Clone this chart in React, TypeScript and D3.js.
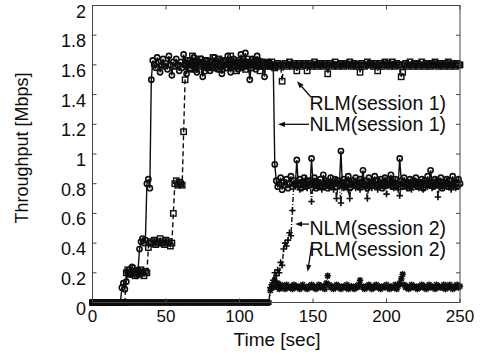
import React from 'react';
import * as d3 from 'd3';

// sampling grid: one sample per second, 0..250 s
const times: number[] = d3.range(0, 251);

// NLM (session 1) — solid line, circle markers
const nlmSession1 = [
  0, 0, 0, 0, 0, 0, 0, 0, 0, 0,
  0, 0, 0, 0, 0, 0, 0, 0, 0, 0,
  0.1, 0.13, 0.09, 0.14, 0.2, 0.22, 0.19, 0.24, 0.21, 0.2,
  0.18, 0.22, 0.36, 0.41, 0.43, 0.4, 0.42, 0.8, 0.83, 0.77,
  1.5, 1.63, 1.6, 1.58, 1.65, 1.62, 1.55, 1.6, 1.64, 1.59,
  1.61, 1.57, 1.66, 1.6, 1.53, 1.62, 1.59, 1.64, 1.6, 1.56,
  1.62, 1.58, 1.67, 1.6, 1.54, 1.61, 1.63, 1.57, 1.6, 1.65,
  1.59, 1.55, 1.62, 1.6, 1.64, 1.52, 1.61, 1.58, 1.63, 1.6,
  1.56, 1.62, 1.59, 1.65, 1.61, 1.57, 1.6, 1.63, 1.54, 1.6,
  1.62, 1.58, 1.66, 1.6, 1.55, 1.61, 1.64, 1.59, 1.62, 1.57,
  1.6, 1.67, 1.58, 1.61, 1.68, 1.59, 1.62, 1.5, 1.6, 1.64,
  1.61, 1.57, 1.66, 1.63, 1.59, 1.62, 1.6, 1.52, 1.61, 1.6,
  1.62, 1.59, 1.6, 1.58, 0.93, 0.82, 0.78, 0.8, 0.84, 0.76,
  0.81, 0.79, 0.83, 0.77, 0.8, 0.85, 0.78, 0.82, 0.8, 0.96,
  0.79, 0.83, 0.77, 0.81, 0.84, 0.78, 0.8, 0.82, 0.79, 0.97,
  0.8, 0.84, 0.77, 0.81, 0.79, 0.83, 0.78, 0.86, 0.8, 0.82,
  0.77, 0.81, 0.84, 0.79, 0.8, 0.83, 0.78, 0.82, 0.8, 1.02,
  0.79, 0.83, 0.78, 0.81, 0.85, 0.77, 0.8, 0.82, 0.79, 0.84,
  0.8, 0.78, 0.83, 0.81, 0.89, 0.79, 0.82, 0.77, 0.84, 0.8,
  0.81, 0.79, 0.85, 0.78, 0.82, 0.8, 0.83, 0.77, 0.81, 0.84,
  0.79, 0.82, 0.8, 0.86, 0.78, 0.81, 0.83, 0.79, 0.8, 0.97,
  0.82, 0.78, 0.84, 0.8, 0.81, 0.77, 0.83, 0.79, 0.82, 0.8,
  0.84, 0.78, 0.81, 0.8, 0.83, 0.77, 0.82, 0.79, 0.85, 0.8,
  0.89, 0.81, 0.78, 0.83, 0.8, 0.82, 0.79, 0.84, 0.77, 0.81,
  0.8, 0.83, 0.78, 0.82, 0.79, 0.85, 0.8, 0.81, 0.78, 0.83,
  0.8,
];

// RLM (session 1) — dashed line, square markers
const rlmSession1 = [
  0, 0, 0, 0, 0, 0, 0, 0, 0, 0,
  0, 0, 0, 0, 0, 0, 0, 0, 0, 0,
  0, 0, 0, 0.2, 0.22, 0.19, 0.2, 0.23, 0.21, 0.18,
  0.2, 0.21, 0.19, 0.22, 0.2, 0.18, 0.21, 0.2, 0.37, 0.4,
  0.41, 0.4, 0.42, 0.39, 0.41, 0.4, 0.43, 0.4, 0.41, 0.39,
  0.42, 0.4, 0.41, 0.38, 0.4, 0.6, 0.8, 0.82, 0.79, 0.81,
  0.8, 0.79, 1.15, 1.5, 1.6, 1.63, 1.58, 1.61, 1.66, 1.6,
  1.57, 1.62, 1.6, 1.64, 1.59, 1.61, 1.56, 1.63, 1.6, 1.58,
  1.62, 1.6, 1.65, 1.58, 1.61, 1.59, 1.64, 1.6, 1.57, 1.62,
  1.6, 1.63, 1.58, 1.61, 1.66, 1.59, 1.6, 1.62, 1.56, 1.61,
  1.63, 1.59, 1.62, 1.6, 1.57, 1.64, 1.6, 1.61, 1.58, 1.62,
  1.6, 1.63, 1.59, 1.61, 1.56, 1.6, 1.62, 1.59, 1.61, 1.6,
  1.61, 1.59, 1.62, 1.6, 1.58, 1.6, 1.61, 1.59, 1.6, 1.49,
  1.6, 1.61, 1.59, 1.6, 1.62, 1.6, 1.59, 1.61, 1.6, 1.56,
  1.6, 1.61, 1.59, 1.6, 1.61, 1.6, 1.56, 1.6, 1.61, 1.59,
  1.6, 1.62, 1.6, 1.59, 1.61, 1.6, 1.6, 1.59, 1.61, 1.6,
  1.54, 1.6, 1.61, 1.59, 1.6, 1.62, 1.6, 1.59, 1.6, 1.61,
  1.6, 1.59, 1.61, 1.6, 1.6, 1.62, 1.59, 1.6, 1.61, 1.6,
  1.59, 1.6, 1.55, 1.61, 1.6, 1.59, 1.6, 1.62, 1.6, 1.61,
  1.6, 1.59, 1.61, 1.6, 1.56, 1.6, 1.61, 1.59, 1.6, 1.62,
  1.6, 1.61, 1.59, 1.6, 1.62, 1.6, 1.59, 1.61, 1.6, 1.6,
  1.52, 1.55, 1.6, 1.61, 1.59, 1.6, 1.62, 1.6, 1.59, 1.61,
  1.6, 1.61, 1.59, 1.6, 1.62, 1.6, 1.59, 1.61, 1.6, 1.6,
  1.59, 1.61, 1.6, 1.62, 1.6, 1.59, 1.61, 1.6, 1.6, 1.59,
  1.61, 1.6, 1.62, 1.59, 1.6, 1.61, 1.6, 1.59, 1.61, 1.6,
  1.6,
];

// NLM (session 2) — dash-dot line, plus markers
const nlmSession2 = [
  0, 0, 0, 0, 0, 0, 0, 0, 0, 0,
  0, 0, 0, 0, 0, 0, 0, 0, 0, 0,
  0, 0, 0, 0, 0, 0, 0, 0, 0, 0,
  0, 0, 0, 0, 0, 0, 0, 0, 0, 0,
  0, 0, 0, 0, 0, 0, 0, 0, 0, 0,
  0, 0, 0, 0, 0, 0, 0, 0, 0, 0,
  0, 0, 0, 0, 0, 0, 0, 0, 0, 0,
  0, 0, 0, 0, 0, 0, 0, 0, 0, 0,
  0, 0, 0, 0, 0, 0, 0, 0, 0, 0,
  0, 0, 0, 0, 0, 0, 0, 0, 0, 0,
  0, 0, 0, 0, 0, 0, 0, 0, 0, 0,
  0, 0, 0, 0, 0, 0, 0, 0, 0, 0,
  0, 0.1, 0.12, 0.15, 0.2, 0.18, 0.22, 0.2, 0.27, 0.25,
  0.36, 0.4, 0.38, 0.42, 0.47, 0.45, 0.62, 0.8, 0.78, 0.82,
  0.79, 0.76, 0.81, 0.78, 0.8, 0.83, 0.77, 0.79, 0.81, 0.68,
  0.8, 0.78, 0.82, 0.77, 0.79, 0.81, 0.76, 0.8, 0.78, 0.82,
  0.79, 0.77, 0.81, 0.8, 0.76, 0.82, 0.7, 0.79, 0.78, 0.67,
  0.8, 0.77, 0.82, 0.79, 0.76, 0.7, 0.81, 0.78, 0.8, 0.77,
  0.82, 0.79, 0.76, 0.8, 0.78, 0.81, 0.77, 0.7, 0.8, 0.79,
  0.77, 0.82, 0.8, 0.78, 0.76, 0.81, 0.79, 0.8, 0.77, 0.82,
  0.73, 0.79, 0.81, 0.78, 0.8, 0.77, 0.82, 0.79, 0.76, 0.72,
  0.8, 0.78, 0.82, 0.79, 0.77, 0.81, 0.8, 0.76, 0.79, 0.82,
  0.78, 0.8, 0.77, 0.81, 0.79, 0.76, 0.82, 0.8, 0.78, 0.79,
  0.81, 0.77, 0.8, 0.79, 0.82, 0.71, 0.78, 0.8, 0.77, 0.81,
  0.79, 0.82, 0.78, 0.8, 0.76, 0.81, 0.79, 0.77, 0.8, 0.82,
  0.79,
];

// RLM (session 2) — dotted line, asterisk markers
const rlmSession2 = [
  0, 0, 0, 0, 0, 0, 0, 0, 0, 0,
  0, 0, 0, 0, 0, 0, 0, 0, 0, 0,
  0, 0, 0, 0, 0, 0, 0, 0, 0, 0,
  0, 0, 0, 0, 0, 0, 0, 0, 0, 0,
  0, 0, 0, 0, 0, 0, 0, 0, 0, 0,
  0, 0, 0, 0, 0, 0, 0, 0, 0, 0,
  0, 0, 0, 0, 0, 0, 0, 0, 0, 0,
  0, 0, 0, 0, 0, 0, 0, 0, 0, 0,
  0, 0, 0, 0, 0, 0, 0, 0, 0, 0,
  0, 0, 0, 0, 0, 0, 0, 0, 0, 0,
  0, 0, 0, 0, 0, 0, 0, 0, 0, 0,
  0, 0, 0, 0, 0, 0, 0, 0, 0, 0,
  0, 0.08, 0.12, 0.1, 0.15, 0.11, 0.13, 0.09, 0.12, 0.1,
  0.11, 0.09, 0.12, 0.1, 0.1, 0.11, 0.09, 0.12, 0.1, 0.11,
  0.1, 0.09, 0.11, 0.12, 0.1, 0.1, 0.09, 0.11, 0.1, 0.12,
  0.1, 0.11, 0.09, 0.1, 0.12, 0.1, 0.11, 0.1, 0.09, 0.13,
  0.18, 0.12, 0.1, 0.11, 0.09, 0.1, 0.12, 0.1, 0.11, 0.09,
  0.1, 0.11, 0.1, 0.12, 0.09, 0.1, 0.11, 0.1, 0.09, 0.11,
  0.1, 0.12, 0.15, 0.11, 0.1, 0.09, 0.11, 0.1, 0.12, 0.1,
  0.09, 0.11, 0.1, 0.12, 0.1, 0.11, 0.09, 0.1, 0.11, 0.1,
  0.12, 0.1, 0.09, 0.11, 0.1, 0.1, 0.12, 0.09, 0.11, 0.13,
  0.16, 0.19, 0.12, 0.1, 0.11, 0.09, 0.1, 0.12, 0.1, 0.11,
  0.1, 0.09, 0.11, 0.1, 0.12, 0.1, 0.11, 0.09, 0.1, 0.12,
  0.1, 0.11, 0.1, 0.09, 0.12, 0.1, 0.11, 0.1, 0.1, 0.12,
  0.09, 0.11, 0.1, 0.12, 0.1, 0.09, 0.11, 0.1, 0.12, 0.1,
  0.11,
];

const xTicks = [0, 50, 100, 150, 200, 250];
const xTickLabels = ['0', '50', '100', '150', '200', '250'];
const yTicks = [0, 0.2, 0.4, 0.6, 0.8, 1, 1.2, 1.4, 1.6, 1.8, 2];
const yTickLabels = ['0', '0.2', '0.4', '0.6', '0.8', '1', '1.2', '1.4', '1.6', '1.8', '2'];

const xTitle = 'Time [sec]';
const yTitle = 'Throughput [Mbps]';

// annotation labels, anchored in data coordinates (time, Mbps)
const annotationLabels = ['RLM(session 1)', 'NLM(session 1)', 'NLM(session 2)', 'RLM(session 2)'];
const annotationTextAt = [[147.6, 1.296], [147.6, 1.155], [147.6, 0.455], [147.6, 0.313]];
const annotationArrowFrom = [[148.6, 1.384], [147.3, 1.2], [147.3, 0.528], [149.1, 0.387]];
const annotationArrowTo = [[139.1, 1.49], [126.2, 1.2], [137.8, 0.528], [146.4, 0.207]];

const FONT = "'Liberation Sans', Arial, Helvetica, sans-serif";
const INK = '#0d0d0d';

type MarkerKind = 'circle' | 'square' | 'plus' | 'star';

function Marker({ kind, cx, cy }: { kind: MarkerKind; cx: number; cy: number }) {
  if (kind === 'circle') return <circle cx={cx} cy={cy} r={2.6} fill="none" stroke={INK} strokeWidth={1.6} />;
  if (kind === 'square') return <rect x={cx - 2.7} y={cy - 2.7} width={5.4} height={5.4} fill="none" stroke={INK} strokeWidth={1.4} />;
  if (kind === 'plus') return <path transform={`translate(${cx},${cy})`} d="M-3.2,0H3.2M0,-3.2V3.2" stroke={INK} strokeWidth={1.6} />;
  return (
    <path
      transform={`translate(${cx},${cy})`}
      d="M-3.2,0H3.2M0,-3.2V3.2M-2.4,-2.4L2.4,2.4M-2.4,2.4L2.4,-2.4"
      stroke={INK}
      strokeWidth={1.5}
    />
  );
}

export default function App() {
  const x = d3.scaleLinear().domain([0, 250]).range([92.5, 460]);
  const y = d3.scaleLinear().domain([0, 2]).range([302.5, 5.5]);
  const line = d3
    .line<number>()
    .x((_, i) => x(times[i]))
    .y((d) => y(d));

  const series: { values: number[]; dash: string; marker: MarkerKind }[] = [
    { values: rlmSession2, dash: '1,2', marker: 'star' },
    { values: nlmSession2, dash: '5,2,1,2', marker: 'plus' },
    { values: rlmSession1, dash: '5,3', marker: 'square' },
    { values: nlmSession1, dash: '', marker: 'circle' },
  ];

  const [x0, x1] = x.range();
  const [y0, y1] = y.range();

  return (
    <svg
      width={485}
      height={358}
      style={{ position: 'absolute', left: 0, top: 0, background: '#fff' }}
      fontFamily={FONT}
    >
      <rect x={0} y={0} width={485} height={358} fill="#fff" />
      {/* data */}
      {series.map((s, si) => (
        <g key={si}>
          <path d={line(s.values) || ''} fill="none" stroke={INK} strokeWidth={1.4} strokeDasharray={s.dash || undefined} />
          {s.values.map((v, i) => (
            <Marker key={i} kind={s.marker} cx={x(times[i])} cy={y(v)} />
          ))}
        </g>
      ))}

      {/* frame */}
      <rect x={x0} y={y1} width={x1 - x0} height={y0 - y1} fill="none" stroke="#444" strokeWidth={1} />
      {xTicks.map((t, i) => (
        <g key={'xt' + i}>
          <line x1={x(t)} x2={x(t)} y1={y0} y2={y0 - 4} stroke="#444" />
          <line x1={x(t)} x2={x(t)} y1={y1} y2={y1 + 4} stroke="#444" />
          <text x={x(t)} y={y0 + 19} textAnchor="middle" fontSize={17} fill={INK}>
            {xTickLabels[i]}
          </text>
        </g>
      ))}
      {yTicks.map((v, i) => (
        <g key={'yt' + i}>
          <line x1={x0} x2={x0 + 4} y1={y(v)} y2={y(v)} stroke="#444" />
          <line x1={x1} x2={x1 - 4} y1={y(v)} y2={y(v)} stroke="#444" />
          <text x={86} y={y(v) + 12} textAnchor="end" fontSize={18} fill={INK}>
            {yTickLabels[i]}
          </text>
        </g>
      ))}

      {/* axis titles */}
      <text x={277} y={346} textAnchor="middle" fontSize={19} fill={INK}>
        {xTitle}
      </text>
      <text transform={`translate(28,148) rotate(-90)`} textAnchor="middle" fontSize={18} fill={INK}>
        {yTitle}
      </text>

      {/* annotations */}
      {annotationLabels.map((lab, i) => {
        const fx = x(annotationArrowFrom[i][0]);
        const fy = y(annotationArrowFrom[i][1]);
        const tx = x(annotationArrowTo[i][0]);
        const ty = y(annotationArrowTo[i][1]);
        const ang = Math.atan2(ty - fy, tx - fx);
        const hl = 7;
        const hw = 2.6;
        const bx = tx - hl * Math.cos(ang);
        const by = ty - hl * Math.sin(ang);
        const px = -Math.sin(ang) * hw;
        const py = Math.cos(ang) * hw;
        return (
          <g key={'an' + i}>
            <line x1={fx} y1={fy} x2={bx} y2={by} stroke={INK} strokeWidth={1.3} />
            <polygon points={`${tx},${ty} ${bx + px},${by + py} ${bx - px},${by - py}`} fill={INK} />
            <text x={x(annotationTextAt[i][0])} y={y(annotationTextAt[i][1])} fontSize={19.5} fill={INK}>
              {lab}
            </text>
          </g>
        );
      })}
    </svg>
  );
}
